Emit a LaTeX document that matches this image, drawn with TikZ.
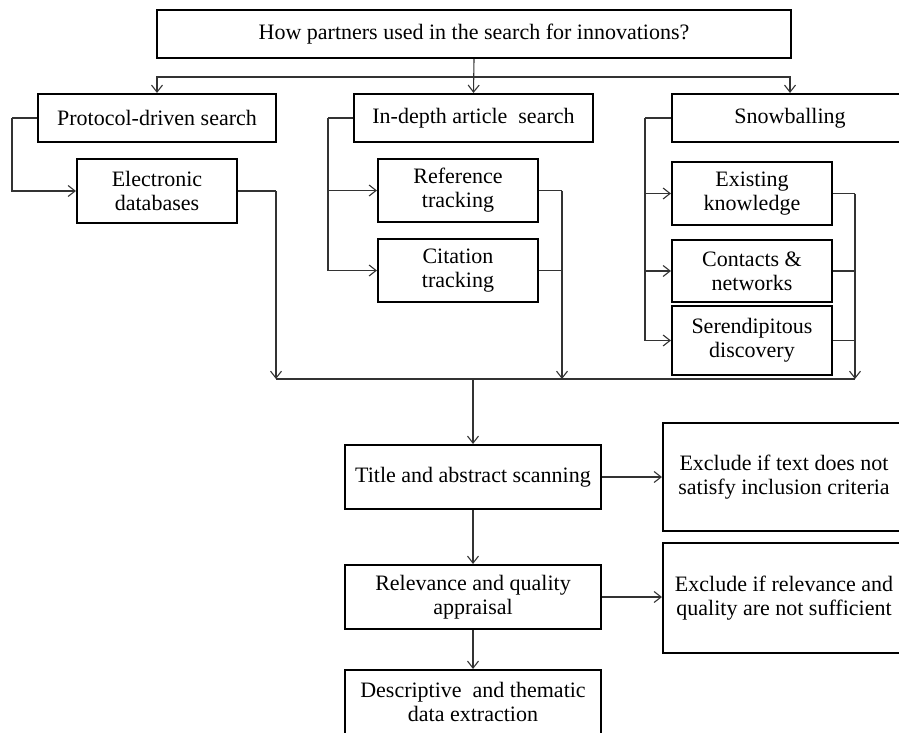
\documentclass[tikz,border=0pt]{standalone}
\usepackage{fontspec}
\setmainfont{Liberation Serif}
\usetikzlibrary{arrows.meta,calc}
\begin{document}
\begin{tikzpicture}[x=1pt,y=-1pt,
  box/.style={draw=black,line width=2.1pt,align=center,inner sep=0pt,
    font=\fontsize{22}{24}\selectfont},
  conn/.style={draw=black!80,line width=1.1pt,
    -{Straight Barb[length=7pt,width=11pt,line width=1.1pt]}},
  plain/.style={draw=black!80,line width=1.1pt}]
\useasboundingbox (0,0) rectangle (899,733);
% nodes
\node[box,minimum width=634pt,minimum height=48pt] (top) at (474,34) {How partners used in the search for innovations?};
\node[box,minimum width=238pt,minimum height=48pt] (prot) at (157,118) {Protocol-driven search};
\node[box,minimum width=239pt,minimum height=48pt] (indepth) at (473.5,118) {In-depth article\ \ search};
\node[box,minimum width=236pt,minimum height=48pt] (snow) at (790,118) {Snowballing};
\node[box,minimum width=160pt,minimum height=64pt] (elec) at (157,191) {Electronic\\databases};
\node[box,minimum width=160pt,minimum height=63pt] (ref) at (458,190.5) {Reference\\tracking};
\node[box,minimum width=160pt,minimum height=63pt] (cit) at (458,270.5) {Citation\\tracking};
\node[box,minimum width=160pt,minimum height=63pt] (exist) at (752,193.5) {Existing\\knowledge};
\node[box,minimum width=160pt,minimum height=62pt] (contact) at (752,271) {Contacts \&\\networks};
\node[box,minimum width=160pt,minimum height=69pt] (seren) at (752,340.5) {Serendipitous\\discovery};
\node[box,minimum width=256pt,minimum height=64pt] (title) at (473,477) {Title and abstract scanning};
\node[box,minimum width=256pt,minimum height=64pt] (rel) at (473,597) {Relevance and quality\\appraisal};
\node[box,minimum width=256pt,minimum height=64pt] (desc) at (473,702) {Descriptive\ \ and thematic\\data extraction};
\node[box,minimum width=242pt,minimum height=108pt] (ex1) at (784,477) {Exclude if text does not\\satisfy inclusion criteria};
\node[box,minimum width=242pt,minimum height=110pt] (ex2) at (784,598) {Exclude if relevance and\\quality are not sufficient};
% coordinates
\coordinate (bus) at ($(top.south)+(0,18)$);
\coordinate (pL) at ($(prot.west)+(-25,0)$);
\coordinate (iL) at ($(indepth.west)+(-25,0)$);
\coordinate (sL) at ($(snow.west)+(-26,0)$);
\coordinate (eR) at (276,191);
\coordinate (rR) at (562,190.5);
\coordinate (xR) at (855,193.5);
\coordinate (eB) at (276,379);
\coordinate (rB) at (562,379);
\coordinate (xB) at (855,379);
\coordinate (mB) at (473,379);
% top distribution
\draw[conn] (top.south) -- (indepth.north);
\draw[conn] (bus) -| (prot.north);
\draw[conn] (bus) -| (snow.north);
% left feeds
\draw[plain] (prot.west) -- (pL);
\draw[conn] (pL) |- (elec.west);
\draw[plain] (indepth.west) -- (iL);
\draw[conn] (iL) |- (ref.west);
\draw[conn] (iL) |- (cit.west);
\draw[plain] (snow.west) -- (sL);
\draw[conn] (sL) |- (exist.west);
\draw[conn] (sL) |- (contact.west);
\draw[conn] (sL) |- (seren.west);
% right outputs
\draw[plain] (elec.east) -- (eR);
\draw[conn] (eR) -- (eB);
\draw[plain] (ref.east) -- (rR);
\draw[conn] (rR) -- (rB);
\draw[plain] (cit.east) -- (cit.east -| rR);
\draw[plain] (exist.east) -- (xR);
\draw[conn] (xR) -- (xB);
\draw[plain] (contact.east) -- (contact.east -| xR);
\draw[plain] (seren.east) -- (seren.east -| xR);
\draw[plain] (eB) -- (xB);
% lower flow
\draw[conn] (mB) -- (title.north);
\draw[conn] (title.east) -- (ex1.west |- title.east);
\draw[conn] (title.south) -- (rel.north);
\draw[conn] (rel.east) -- (ex2.west |- rel.east);
\draw[conn] (rel.south) -- (desc.north);
\end{tikzpicture}
\end{document}
